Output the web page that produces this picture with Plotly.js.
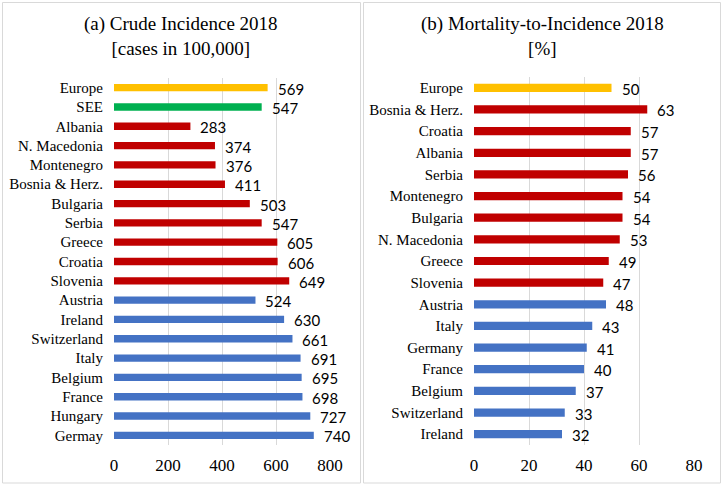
<!DOCTYPE html>
<html>
<head>
<meta charset="utf-8">
<script src="https://cdn.plot.ly/plotly-3.0.1.min.js"></script>
<style>
  body { margin: 0; background: #fff; }
  #chart { width: 722px; height: 486px; }
</style>
</head>
<body>
<div id="chart"></div>
<script>
// (a) crude incidence, cases per 100,000
var incCountries = ["Europe", "SEE", "Albania", "N. Macedonia", "Montenegro", "Bosnia & Herz.",
    "Bulgaria", "Serbia", "Greece", "Croatia", "Slovenia", "Austria", "Ireland",
    "Switzerland", "Italy", "Belgium", "France", "Hungary", "Germay"];
var incValues = [569, 547, 283, 374, 376, 411, 503, 547, 605, 606, 649, 524, 630, 661, 691, 695, 698, 727, 740];
var incGroups = ["eu", "see", "r", "r", "r", "r", "r", "r", "r", "r", "r", "b", "b", "b", "b", "b", "b", "b", "b"];

// (b) mortality-to-incidence, %
var mirCountries = ["Europe", "Bosnia & Herz.", "Croatia", "Albania", "Serbia", "Montenegro",
    "Bulgaria", "N. Macedonia", "Greece", "Slovenia", "Austria", "Italy", "Germany",
    "France", "Belgium", "Switzerland", "Ireland"];
var mirValues = [50, 63, 57, 57, 56, 54, 54, 53, 49, 47, 48, 43, 41, 40, 37, 33, 32];
var mirGroups = ["eu", "r", "r", "r", "r", "r", "r", "r", "r", "r", "b", "b", "b", "b", "b", "b", "b"];

var incTicks = [0, 200, 400, 600, 800];
var mirTicks = [0, 20, 40, 60, 80];

var groupColors = {eu: "#FFC000", see: "#00B050", r: "#C00000", b: "#4472C4"};

var serif = "Liberation Serif";
var sans = "Lato";

function barTrace(cats, vals, groups, xa, ya) {
    return {
        type: "bar",
        orientation: "h",
        x: vals,
        y: cats,
        xaxis: xa,
        yaxis: ya,
        width: 0.38,
        marker: {color: groups.map(function (g) { return groupColors[g]; })},
        hoverinfo: "skip",
        showlegend: false
    };
}

// value labels sit just right of each bar end
function valueLabels(cats, vals, xa, ya) {
    return vals.map(function (v, i) {
        return {
            x: v, y: cats[i], xref: xa, yref: ya,
            text: String(v), showarrow: false,
            xanchor: "left", xshift: 8, yshift: -1,
            font: {family: sans, size: 15, color: "#000"}
        };
    });
}

var traces = [
    barTrace(incCountries, incValues, incGroups, "x", "y"),
    barTrace(mirCountries, mirValues, mirGroups, "x2", "y2")
];

function xAxis(ticks, domain, anchor) {
    return {
        domain: domain,
        anchor: anchor,
        range: [0, ticks[ticks.length - 1]],
        tickvals: ticks,
        showgrid: true,
        gridcolor: "#D9D9D9",
        zeroline: false,
        showline: false,
        ticks: "",
        ticklabelstandoff: 8,
        fixedrange: true,
        tickfont: {family: serif, size: 17, color: "#000"}
    };
}

function yAxis(cats, domain, anchor) {
    return {
        domain: domain,
        anchor: anchor,
        type: "category",
        categoryorder: "array",
        categoryarray: cats,
        range: [cats.length - 0.5, -0.5],
        showgrid: false,
        zeroline: false,
        showline: false,
        ticks: "",
        ticklabelstandoff: 10,
        fixedrange: true,
        tickfont: {family: serif, size: 15, color: "#000"}
    };
}

var W = 722, H = 486;
function px(x) { return x / W; }
function py(y) { return 1 - y / H; }

var layout = {
    width: W,
    height: H,
    margin: {l: 0, r: 0, t: 0, b: 0},
    font: {family: serif, color: "#000"},
    paper_bgcolor: "#fff",
    plot_bgcolor: "rgba(0,0,0,0)",
    xaxis: xAxis(incTicks, [px(114), px(330)], "y"),
    yaxis: yAxis(incCountries, [py(445), py(78)], "x"),
    xaxis2: xAxis(mirTicks, [px(474), px(694)], "y2"),
    yaxis2: yAxis(mirCountries, [py(445), py(77)], "x2"),
    shapes: [
        {type: "rect", xref: "paper", yref: "paper", x0: px(2.5), x1: px(360.5), y0: py(483), y1: py(2.5),
         line: {color: "#D9D9D9", width: 1}},
        {type: "rect", xref: "paper", yref: "paper", x0: px(363.5), x1: px(720.5), y0: py(483), y1: py(2.5),
         line: {color: "#D9D9D9", width: 1}}
    ],
    annotations: [
        {xref: "paper", yref: "paper", x: px(181), y: py(11), xanchor: "center", yanchor: "top",
         text: "(a) Crude Incidence 2018<br>[cases in 100,000]", showarrow: false,
         font: {family: serif, size: 19, color: "#000"}},
        {xref: "paper", yref: "paper", x: px(542), y: py(11), xanchor: "center", yanchor: "top",
         text: "(b) Mortality-to-Incidence 2018<br>[%]", showarrow: false,
         font: {family: serif, size: 19, color: "#000"}}
    ].concat(valueLabels(incCountries, incValues, "x", "y"))
     .concat(valueLabels(mirCountries, mirValues, "x2", "y2"))
};

Plotly.newPlot("chart", traces, layout, {displayModeBar: false, staticPlot: true});
</script>
</body>
</html>
